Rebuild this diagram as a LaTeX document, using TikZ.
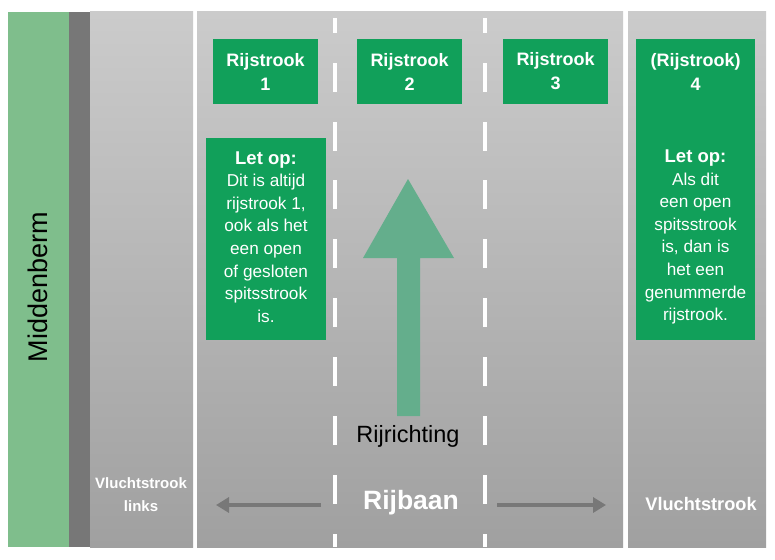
\documentclass[tikz,border=0pt]{standalone}
\usepackage{fontspec}
\setmainfont{Liberation Sans}
\usetikzlibrary{arrows.meta}
\definecolor{boxgreen}{RGB}{17,160,90}
\definecolor{berm}{RGB}{127,190,140}
\definecolor{stripe}{RGB}{119,119,119}
\definecolor{roadtop}{RGB}{203,203,203}
\definecolor{roadbot}{RGB}{160,160,160}
\definecolor{arrowgreen}{RGB}{100,174,140}
\definecolor{arrowgray}{RGB}{120,120,120}
\tikzset{
  road/.style={top color=roadtop,bottom color=roadbot,draw=none},
  greenbox/.style={fill=boxgreen,draw=none,inner sep=0pt},
  hdr/.style={text=white,align=center,inner sep=0pt,font=\fontsize{18}{24}\selectfont\bfseries},
  note/.style={text=white,align=center,inner sep=0pt,font=\fontsize{17.2}{22.6}\selectfont},
  dashline/.style={fill=white,draw=none},
  grayarrow/.style={draw=arrowgray,line width=4.5pt,-{Triangle[length=13pt,width=15pt]}},
}
\begin{document}
\begin{tikzpicture}[x=1pt,y=-1pt]
\useasboundingbox (0,0) rectangle (775,559);
% berm and stripe
\fill[berm] (8,12) rectangle (69,547);
\fill[stripe] (69,12) rectangle (90,547);
% road surfaces
\shade[road] (90,12) rectangle (193,547);
\shade[road] (197,12) rectangle (623,547);
\shade[road] (628,12) rectangle (766,547);
% lane dashes
\foreach \xx in {333,483}{
  \fill[dashline] (\xx,18) rectangle (\xx+4,33);
  \foreach \yy in {63,122,180,239,298,357,416,475}{
    \fill[dashline] (\xx,\yy) rectangle (\xx+4,\yy+29);
  }
  \fill[dashline] (\xx,534) rectangle (\xx+4,547);
}
% direction arrow
\fill[arrowgreen] (408,179) -- (454,258) -- (420,258) -- (420,416) -- (397,416) -- (397,258) -- (363,258) -- cycle;
% boxes
\node[greenbox,minimum width=105,minimum height=65] (b1) at (265.5,71.5) {};
\node[greenbox,minimum width=105,minimum height=65] (b2) at (409.5,71.5) {};
\node[greenbox,minimum width=105,minimum height=65] (b3) at (555.5,71.5) {};
\node[greenbox,minimum width=119,minimum height=301] (b4) at (695.5,189.5) {};
\node[greenbox,minimum width=120,minimum height=202] (n1) at (266,239) {};
% box texts
\node[hdr] (t1) at (b1) {Rijstrook\\1};
\node[hdr] (t2) at (b2) {Rijstrook\\2};
\node[hdr] (t3) at (b3) {Rijstrook\\3};
\node[hdr] (t4) at (695.5,72) {(Rijstrook)\\4};
\node[note] (l1) at (266,237) {{\fontsize{18.5}{22.6}\selectfont\bfseries Let op:}\\Dit is altijd\\rijstrook 1,\\ook als het\\een open\\of gesloten\\spitsstrook\\is.};
\node[note] (l4) at (695.5,237) {{\fontsize{18.5}{22.6}\selectfont\bfseries Let op:}\\Als dit\\een open\\spitsstrook\\is, dan is\\het een\\genummerde\\rijstrook.};
% labels
\node[rotate=90,font=\fontsize{27}{30}\selectfont,inner sep=0pt] (mb) at (38,287) {Middenberm};
\node[anchor=base,font=\fontsize{23.5}{26}\selectfont,inner sep=0pt] (rr) at (408,442) {Rijrichting};
\node[anchor=base,text=white,font=\fontsize{26.5}{30}\selectfont\bfseries,inner sep=0pt] (rb) at (411,509) {Rijbaan};
\node[text=white,align=center,font=\fontsize{15}{23}\selectfont\bfseries,inner sep=0pt] (vl) at (141,495) {Vluchtstrook\\links};
\node[text=white,font=\fontsize{18.2}{22}\selectfont\bfseries,inner sep=0pt] (vr) at (701,504) {Vluchtstrook};
% side arrows
\coordinate (la) at (321,505);
\coordinate (lb) at (216,505);
\coordinate (ra) at (497,505);
\coordinate (rb2) at (606,505);
\draw[grayarrow] (la) -- (lb);
\draw[grayarrow] (ra) -- (rb2);
\end{tikzpicture}
\end{document}
